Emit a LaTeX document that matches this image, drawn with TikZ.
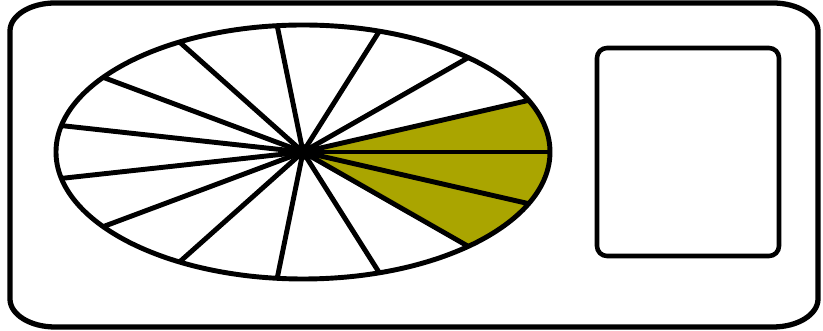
\documentclass[tikz,border=0pt]{standalone}
\usepackage{tikz}
\definecolor{fanolive}{RGB}{170,165,0}

\begin{document}
\begin{tikzpicture}[x=0.02cm,y=0.02cm,line join=round,
    casing/.style={draw=black,line width=3pt},
    blade/.style={draw=black,line width=2.8pt},
    panel/.style={draw=black,line width=2.6pt,rounded corners=0.2cm}]
    \useasboundingbox (0,0) rectangle (823,331);
    % outer housing
    \draw[casing] (55,328) -- (773,328)
        arc[start angle=90,end angle=0,x radius=45,y radius=28] -- (818,32)
        arc[start angle=0,end angle=-90,x radius=45,y radius=28] -- (55,4)
        arc[start angle=-90,end angle=-180,x radius=45,y radius=28] -- (10,300)
        arc[start angle=180,end angle=90,x radius=45,y radius=28] -- cycle;
    % fan
    \begin{scope}[shift={(303,179)}]
      \fill[fanolive] (0,0) -- (-48:247 and 127)
          arc[start angle=-48,end angle=24,x radius=247,y radius=127] -- cycle;
      \foreach \t in {0,24,...,336}
        \draw[blade] (0,0) -- (\t:247 and 127);
      \draw[blade] (0,0) ellipse [x radius=247,y radius=127];
      \fill (0,0) circle [radius=8];
    \end{scope}
    % side panel
    \draw[panel] (597,75) rectangle (779,283);
\end{tikzpicture}
\end{document}
